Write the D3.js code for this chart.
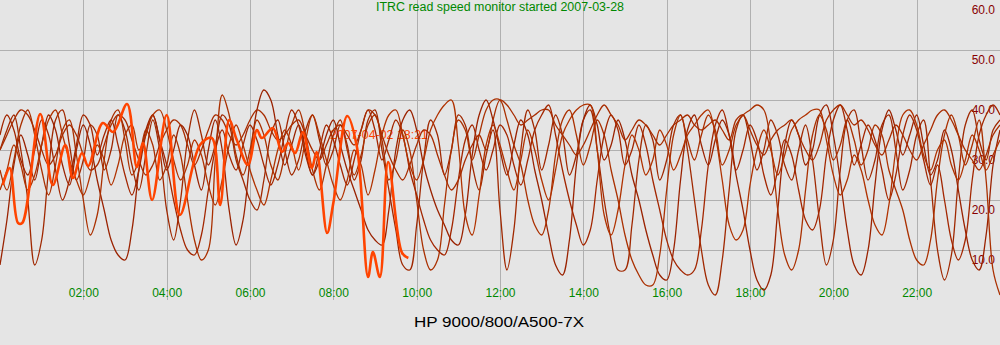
<!DOCTYPE html>
<html><head><meta charset="utf-8">
<script src="https://cdn.jsdelivr.net/npm/d3@7"></script>
<style>body{margin:0;background:#e5e5e5;}svg{display:block;}</style>
</head><body>
<script>
const title = "ITRC read speed monitor started 2007-03-28";
const hostLabel = "HP 9000/800/A500-7X";
const stampLabel = "2007-04-02 18:21";
const xTickMinutes = [120,240,360,480,600,720,840,960,1080,1200,1320];
const xTickLabels = ["02:00","04:00","06:00","08:00","10:00","12:00","14:00","16:00","18:00","20:00","22:00"];
const yTicks = [10,20,30,40,50,60];
const yTickLabels = ["10.0","20.0","30.0","40.0","50.0","60.0"];
const sampleStep = 10; // minutes between samples of the daily series

const day1 = [30,34,37,30,20,7,12,26,36,38,31,24, 28,35,33,26,30,37,34,27,22,29,36,30, 18,12,20,32,38,33,27,31,37,35,28,24, 20,18,24,33,36,30,25,28,34,37,32,27, 30,35,31,24,28,36,38,30,22,14,7,6, 15,28,36,33,25,30,37,35,27,22,29,34, 18,6,14,30,38,34,26,31,37,33,25,29, 36,38,30,20,12,6,6,15,28,35,32,24, 28,35,37,30,20,10,3,1,8,22,34,37, 32,26,30,36,33,27,24,30,35,28,16,7, 12,26,36,38,31,24,28,35,37,30,22,26, 33,36,24,10,4,9,24,35,38,32,28,34, 36];
const day2 = [7,16,27,33,29,24,31,37,34,27,23,30, 35,31,24,18,12,9,8,14,26,34,37,32, 26,30,35,33,27,22,30,36,30,18,11,16, 28,38,42,40,33,27,31,35,30,25,28,33, 36,31,26,22,18,14,12,11,18,30,36,38, 34,27,22,18,15,12,11,17,29,37,40,36, 30,25,31,36,33,26,20,13,7,5,12,27, 36,39,35,28,31,36,32,25,20,14,9,5, 4,10,24,34,37,31,27,32,36,33,25,18, 10,4,2,5,18,31,36,33,27,30,37,39, 33,24,14,7,5,10,23,34,38,34,29,33, 37,31,25,28,34,30,22,14,8,6,13,27, 34];
const day3 = [26,22,28,35,38,33,26,21,27,34,36,29, 20,13,17,28,36,38,32,25,28,34,31,24, 27,33,29,20,12,8,10,28,41,37,29,25, 30,36,33,27,24,29,35,38,33,26,22,27, 33,36,30,25,29,35,37,32,24,28,34,30, 20,10,6,8,19,30,36,34,28,33,38,40, 40,36,31,27,20,15,13,18,29,36,38,33, 27,31,36,33,26,20,13,8,5,3,3,9, 22,33,37,32,28,33,37,34,27,30,35,37, 38,39,38,31,18,9,6,10,22,33,37,34, 28,31,36,32,27,30,35,33,26,22,18,12, 8,7,12,24,33,37,33,27,31,36,24,6, 1];
const day4 = [33,37,34,28,25,30,36,33,26,20,24,31, 37,35,29,33,36,31,25,21,26,33,37,32, 27,20,14,10,9,13,22,30,34,29,26,31, 35,32,27,23,27,33,38,35,29,25,30,35, 32,27,23,28,34,38,34,28,32,36,33,26, 21,16,12,10,9,14,24,32,35,30,26,30, 35,33,27,23,28,34,37,39,33,26,20,15, 11,14,24,33,37,34,27,30,35,31,24,18, 12,8,6,5,6,14,27,35,38,33,26,30, 35,32,25,21,26,32,29,22,16,14,18,29, 36,39,34,27,31,35,32,26,20,25,33,37, 34,28,23,27,20,12,8,12,24,33,37,39, 37];
const day5 = [22,26,31,27,22,25,31,36,38,33,28,24, 21,25,31,28,23,27,33,35,30,33,37,38, 34,28,24,27,32,29,23,19,24,31,35,31, 26,22,19,24,30,34,31,26,32,37,33,28, 23,20,24,30,27,21,26,33,37,38,33,27, 24,28,34,37,39,40,31,17,13,21,31,35, 31,26,22,28,34,30,24,20,26,33,36,38, 39,39,30,17,13,18,27,33,30,25,28,34, 31,26,29,33,35,37,38,33,24,15,12,14, 23,30,34,30,25,29,34,36,37,38,38,32, 25,21,24,29,26,20,15,13,19,30,37,38, 35,29,26,30,32,27,24,28,33,30,26,29, 32];
const day6 = [30,33,36,38,37,34,30,27,29,33,35,33, 29,26,27,31,35,37,36,32,28,25,27,31, 34,36,35,31,27,30,34,37,36,33,31,33, 36,38,37,34,32,33,35,36,33,30,28,31, 34,35,33,31,34,38,37,33,29,26,24,27, 31,34,33,29,25,22,24,28,31,33,30,36, 40,39,37,35,36,37,38,38,35,33,31,29, 31,34,37,39,37,35,32,34,36,35,33,31, 33,35,36,37,35,34,35,36,34,32,36,37, 34,31,29,32,34,35,36,33,30,28,31,36, 38,39,37,35,36,34,31,29,32,35,33,30, 28,31,34,37,38,36,33,30,28,26,29,33, 35];
const todayMinutes = [4,14,26,32,58,76,94,105,118,127,148,163,183,197,206,219,240,259,288,305,317,330,341,357,370,377,393,406,415,425,436,449,456,471,480,500,514,530,537,547,559,579,588];
const todayValues = [23,26.4,15.4,15.4,37.2,23,31,24.4,29.4,26.8,35.4,33.6,39.2,26.6,31.4,20,37,17,31,32.4,19,36,32,27,34,32.4,34.4,29.6,31.4,29.4,33.6,26.4,29.6,13.4,19.4,36.8,30.6,4.6,9.6,4.6,27.6,9.4,8.4];

const pastDays = [day1,day2,day3,day4,day5,day6];
const pastColors = ["#a02800","#9a2200","#aa3000","#a32600","#b03200","#a82c00"];

const W = 1000, H = 345;
const svg = d3.select("body").append("svg").attr("width",W).attr("height",H);
svg.append("rect").attr("width",W).attr("height",H).attr("fill","#e5e5e5");

const x = d3.scaleLinear().domain([0,1440]).range([0,1000]);
const y = d3.scaleLinear().domain([0,60]).range([300,0]);
const FONT = "'Liberation Sans', Arial, sans-serif";

// horizontal grid + y labels
const gy = svg.append("g").call(d3.axisRight(y).tickValues(yTicks).tickSize(1000).tickFormat((d,i)=>yTickLabels[i]));
gy.select(".domain").remove();
gy.selectAll(".tick line").attr("stroke","#b0b0b0").attr("shape-rendering","crispEdges")
  .attr("stroke-opacity", d => d===60 ? 0 : 1);
gy.selectAll(".tick text").attr("x",995).attr("y",13).attr("dy",null).attr("text-anchor","end")
  .attr("fill","#880000").style("font","12px "+FONT);

// vertical grid + x labels
const gx = svg.append("g").attr("transform","translate(0,300)")
  .call(d3.axisBottom(x).tickValues(xTickMinutes).tickSize(-300).tickFormat((d,i)=>xTickLabels[i]));
gx.select(".domain").remove();
gx.selectAll(".tick line").attr("stroke","#b0b0b0").attr("shape-rendering","crispEdges");
gx.selectAll(".tick text").attr("y",-3).attr("dy",null).attr("fill","#008800").style("font","12px "+FONT);

// title
svg.append("text").attr("x",500).attr("y",11).attr("text-anchor","middle").attr("fill","#008800")
  .style("font","12px "+FONT).attr("textLength",248).attr("lengthAdjust","spacingAndGlyphs").text(title);

// stamp text
svg.append("text").attr("x",330).attr("y",139).attr("fill","#ff4400")
  .style("font","12px "+FONT).attr("textLength",98).attr("lengthAdjust","spacingAndGlyphs").text(stampLabel);

// host label
svg.append("text").attr("x",499).attr("y",327).attr("text-anchor","middle").attr("fill","#000")
  .style("font","14px "+FONT).attr("textLength",170).attr("lengthAdjust","spacingAndGlyphs").text(hostLabel);

const line = d3.line().x(d=>x(d[0])).y(d=>y(d[1])).curve(d3.curveCatmullRom.alpha(0.5));
pastDays.forEach((vals,k)=>{
  svg.append("path").datum(vals.map((v,i)=>[i*sampleStep, v]))
    .attr("d",line).attr("fill","none").attr("stroke",pastColors[k]).attr("stroke-width",1.3);
});
svg.append("path").datum(todayMinutes.map((m,i)=>[m,todayValues[i]]))
  .attr("d",line).attr("fill","none").attr("stroke","#ff4400").attr("stroke-width",2.6)
  .attr("stroke-linejoin","round");
</script>
</body></html>
